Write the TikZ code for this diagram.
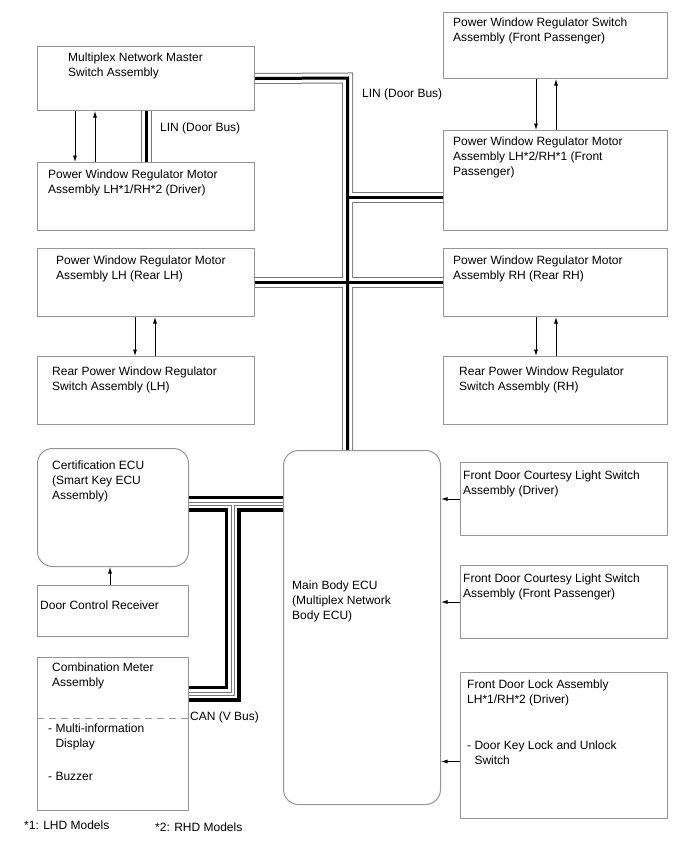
\documentclass[tikz,border=0pt]{standalone}
\usepackage{fontspec}
\setmainfont{Liberation Sans}
\usetikzlibrary{arrows.meta}
\definecolor{boxgray}{RGB}{150, 150, 150}
\definecolor{busgray}{RGB}{120, 120, 120}

\begin{document}
\begin{tikzpicture}[
    x=1pt, y=-1pt,
    font=\fontsize{12}{14.8}\selectfont,
    box/.style={draw=boxgray, line width=1pt, anchor=north west, inner sep=0pt},
    ecubox/.style={box, rounded corners=15pt},
    txt/.style={anchor=north west, align=left, inner sep=0pt},
    arr/.style={-{Latex[length=6.5pt, width=4pt]}, line width=0.8pt},
    linout/.style={draw=busgray, line width=11pt},
    linin/.style={draw=white, line width=9pt},
    lincore/.style={draw=black, line width=3pt},
    canout/.style={draw=black, line width=16pt},
    canin/.style={draw=white, line width=9pt},
    cangray/.style={draw=busgray, line width=4pt},
    canmid/.style={draw=white, line width=2pt}
]
    \useasboundingbox (0,0) rectangle (688,852);

    % --- Boxes ---
    \node[box, minimum width=217pt, minimum height=64pt]  (master) at (37,46)  {};
    \node[box, minimum width=217pt, minimum height=68pt]  (drv)    at (37,162) {};
    \node[box, minimum width=224pt, minimum height=66pt]  (fpsw)   at (443,12) {};
    \node[box, minimum width=224pt, minimum height=100pt] (fpmot)  at (443,130) {};
    \node[box, minimum width=217pt, minimum height=68pt]  (rlmot)  at (37,248) {};
    \node[box, minimum width=224pt, minimum height=68pt]  (rrmot)  at (443,248) {};
    \node[box, minimum width=217pt, minimum height=68pt]  (rlsw)   at (37,356) {};
    \node[box, minimum width=224pt, minimum height=68pt]  (rrsw)   at (443,356) {};
    \node[ecubox, minimum width=151pt, minimum height=118pt] (cert) at (37,448) {};
    \node[box, minimum width=151pt, minimum height=51pt]  (dcr)    at (37,585) {};
    \node[box, minimum width=151pt, minimum height=153pt] (meter)  at (37,657) {};
    \node[ecubox, minimum width=157pt, minimum height=354pt] (ecu) at (283,450) {};
    \node[box, minimum width=207pt, minimum height=73pt]  (fdcla)  at (460,462) {};
    \node[box, minimum width=207pt, minimum height=73pt]  (fdclb)  at (460,565) {};
    \node[box, minimum width=207pt, minimum height=146pt] (fdl)    at (460,672) {};

    % --- Box texts ---
    \node[txt] (t_master) at (68,53)   {Multiplex Network Master\\Switch Assembly};
    \node[txt] (t_drv)    at (48,170)  {Power Window Regulator Motor\\Assembly LH*1/RH*2 (Driver)};
    \node[txt] (t_fpsw)   at (453,18)  {Power Window Regulator Switch\\Assembly (Front Passenger)};
    \node[txt] (t_fpmot)  at (453,137) {Power Window Regulator Motor\\Assembly LH*2/RH*1 (Front\\Passenger)};
    \node[txt] (t_rlmot)  at (56,256)  {Power Window Regulator Motor\\Assembly LH (Rear LH)};
    \node[txt] (t_rrmot)  at (453,256) {Power Window Regulator Motor\\Assembly RH (Rear RH)};
    \node[txt] (t_rlsw)   at (52,367)  {Rear Power Window Regulator\\Switch Assembly (LH)};
    \node[txt] (t_rrsw)   at (459,367) {Rear Power Window Regulator\\Switch Assembly (RH)};
    \node[txt] (t_cert)   at (52,461)  {Certification ECU\\(Smart Key ECU\\Assembly)};
    \node[txt] (t_dcr)    at (40,601)  {Door Control Receiver};
    \node[txt] (t_meter)  at (52,663)  {Combination Meter\\Assembly};
    \node[txt] (t_mid)    at (48,724)  {- Multi-information\\\phantom{- }Display};
    \node[txt] (t_buzz)   at (48,772)  {- Buzzer};
    \node[txt] (t_ecu)    at (292,581) {Main Body ECU\\(Multiplex Network\\Body ECU)};
    \node[txt] (t_fdcla)  at (463,471) {Front Door Courtesy Light Switch\\Assembly (Driver)};
    \node[txt] (t_fdclb)  at (463,574) {Front Door Courtesy Light Switch\\Assembly (Front Passenger)};
    \node[txt] (t_fdl)    at (467,680) {Front Door Lock Assembly\\LH*1/RH*2 (Driver)};
    \node[txt] (t_key)    at (467,741) {- Door Key Lock and Unlock\\\phantom{- }Switch};

    % dashed split in the meter
    \draw[boxgray, dashed, dash pattern=on 7pt off 5pt, line width=1pt]
        (meter.west |- 0,718) -- (meter.east |- 0,718);

    % --- LIN (Door Bus) ---
    \coordinate (lin_drv) at ([xshift=109pt]master.south west);
    \coordinate (lin_top) at (347.5,78);
    \coordinate (j_fp)    at (347.5,197);
    \foreach \lay in {linout, linin, lincore} {
        \draw[\lay] (lin_drv) -- (lin_drv |- drv.north);
        \draw[\lay] (master.east) -- (lin_top) -- (lin_top |- ecu.north);
        \draw[\lay] (j_fp) -- (j_fp -| fpmot.west);
        \draw[\lay] (rlmot.east) -- (rrmot.west);
    }

    % --- CAN (V Bus) ---
    \coordinate (can_j) at (232.5,503.5);
    \coordinate (can_m) at (232.5,693.5);
    \foreach \lay in {canout, canin, cangray, canmid} {
        \draw[\lay] (cert.east |- can_j) -- (ecu.west |- can_j);
        \draw[\lay] (can_j) -- (can_m) -- (meter.east |- can_m);
    }

    % --- Bus labels ---
    \node[txt] (l_lin_a) at (160,123) {LIN (Door Bus)};
    \node[txt] (l_lin_b) at (362,89)  {LIN (Door Bus)};
    \node[txt] (l_can)   at (190,712) {CAN (V Bus)};

    % --- Signal arrows ---
    \coordinate (fdl_in) at ([yshift=-16pt]fdl.west);
    \draw[arr] ([xshift=38pt]master.south west) -- ([xshift=38pt]drv.north west);
    \draw[arr] ([xshift=58pt]drv.north west) -- ([xshift=58pt]master.south west);
    \draw[arr] ([xshift=93pt]fpsw.south west) -- ([xshift=93pt]fpmot.north west);
    \draw[arr] ([xshift=113pt]fpmot.north west) -- ([xshift=113pt]fpsw.south west);
    \draw[arr] ([xshift=98pt]rlmot.south west) -- ([xshift=98pt]rlsw.north west);
    \draw[arr] ([xshift=118pt]rlsw.north west) -- ([xshift=118pt]rlmot.south west);
    \draw[arr] ([xshift=93pt]rrmot.south west) -- ([xshift=93pt]rrsw.north west);
    \draw[arr] ([xshift=113pt]rrsw.north west) -- ([xshift=113pt]rrmot.south west);
    \draw[arr] ([xshift=73pt]dcr.north west) -- ([xshift=73pt]cert.south west);
    \draw[arr] (fdcla.west) -- (ecu.east |- fdcla.west);
    \draw[arr] (fdclb.west) -- (ecu.east |- fdclb.west);
    \draw[arr] (fdl_in) -- (ecu.east |- fdl_in);

    % --- Footnotes ---
    \node[txt] (n_lhd) at (24,821)  {*1: LHD Models};
    \node[txt] (n_rhd) at (155,823) {*2: RHD Models};

\end{tikzpicture}
\end{document}
